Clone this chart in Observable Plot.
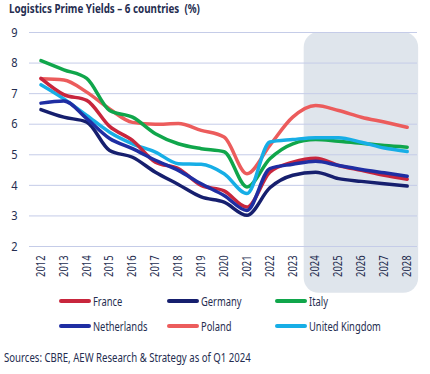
<!DOCTYPE html>
<html>
<head>
<meta charset="utf-8">
<script src="https://cdn.jsdelivr.net/npm/d3@7"></script>
<script src="https://cdn.jsdelivr.net/npm/@observablehq/plot@0.6"></script>
<style>
  html, body { margin: 0; padding: 0; background: #fff; }
  body { width: 430px; height: 374px; position: relative; overflow: hidden;
         font-family: "Noto Sans", sans-serif; color: #252d50; }
  .nar { display: inline-block; transform-origin: 0 50%; white-space: nowrap; }
  #title { position: absolute; left: 9px; top: 0px; font-size: 12.5px; font-weight: bold; }
  #title .nar { transform: scaleX(0.785); }
  #chart { position: absolute; left: 0; top: 20px; }
  #legend { position: absolute; left: 59px; top: 292px; display: grid; grid-template-columns: 108px 108px 140px; row-gap: 7px; font-size: 12px; }
  #legend .nar { transform: scaleX(0.78); }
  .item { display: flex; align-items: center; height: 18px; }
  .sw { width: 32px; height: 4px; border-radius: 2px; margin-right: 2px; flex: none; }
  #source { position: absolute; left: 4px; top: 349px; font-size: 12px; }
  #source .nar { transform: scaleX(0.80); }
</style>
</head>
<body>
<div id="title"><span class="nar">Logistics Prime Yields – 6 countries &nbsp;(%)</span></div>
<div id="chart"></div>
<div id="legend"></div>
<div id="source"><span class="nar">Sources: CBRE, AEW Research &amp; Strategy as of Q1 2024</span></div>
<script>
const years = [2012, 2013, 2014, 2015, 2016, 2017, 2018, 2019, 2020, 2021, 2022, 2023, 2024, 2025, 2026, 2027, 2028];
const countries = ["France", "Germany", "Italy", "Netherlands", "Poland", "United Kingdom"];
const colors = ["#c8263d", "#161f6e", "#10a64b", "#1f2ea3", "#ec5c5c", "#17aee6"];
const france      = [7.50, 6.97, 6.78, 5.93, 5.47, 4.76, 4.55, 4.00, 3.82, 3.29, 4.43, 4.76, 4.89, 4.65, 4.49, 4.33, 4.20];
const germany     = [6.48, 6.23, 6.07, 5.14, 4.92, 4.43, 4.03, 3.62, 3.45, 3.02, 3.92, 4.33, 4.43, 4.22, 4.13, 4.05, 3.98];
const italy       = [8.08, 7.78, 7.50, 6.45, 6.23, 5.69, 5.36, 5.20, 5.10, 3.95, 4.87, 5.36, 5.50, 5.44, 5.38, 5.30, 5.25];
const netherlands = [6.69, 6.76, 6.18, 5.53, 5.20, 4.82, 4.49, 4.05, 3.67, 3.18, 4.55, 4.69, 4.79, 4.65, 4.52, 4.41, 4.30];
const poland      = [7.49, 7.45, 7.05, 6.50, 6.06, 6.00, 6.02, 5.80, 5.58, 4.38, 5.31, 6.23, 6.61, 6.45, 6.23, 6.07, 5.90];
const uk          = [7.29, 6.83, 6.29, 5.74, 5.36, 5.09, 4.71, 4.69, 4.38, 3.73, 5.42, 5.50, 5.56, 5.56, 5.41, 5.22, 5.11];
const yTicks = [2, 3, 4, 5, 6, 7, 8, 9];
const forecastBand = [{start: 2023.5, end: 2028.5, top: 9, bottom: 0.47}];

const series = [france, germany, italy, netherlands, poland, uk];
const drawOrder = ["Poland", "Italy", "United Kingdom", "Germany", "France", "Netherlands"];
const rows = [];
drawOrder.forEach(c => {
  const vals = series[countries.indexOf(c)];
  years.forEach((y, i) => rows.push({country: c, year: y, value: vals[i]}));
});

const font = '"Noto Sans", sans-serif';
const chart = Plot.plot({
  width: 430,
  height: 276,
  marginTop: 12,
  marginBottom: 50,
  marginLeft: 29,
  marginRight: 13,
  style: {fontFamily: font, color: "#252d50", background: "transparent", overflow: "visible"},
  x: {type: "linear", domain: [2011.5, 2028.45]},
  y: {domain: [2, 9]},
  color: {domain: countries, range: colors},
  marks: [
    Plot.rect(forecastBand, {x1: "start", x2: "end", y1: "top", y2: "bottom", rx: 15, fill: "#dfe5ec"}),
    Plot.gridY(yTicks, {stroke: "#c5cce8", strokeOpacity: 1, strokeWidth: 1}),
    Plot.axisY(yTicks, {tickSize: 0, tickPadding: 12, label: null, fontSize: 13, tickFormat: d => String(d)}),
    Plot.axisX(years, {tickSize: 0, tickPadding: 9, tickRotate: -90, label: null, fontSize: 12, tickFormat: d => String(d)}),
    Plot.line(rows, {x: "year", y: "value", z: "country", stroke: "country", strokeWidth: 3.5, curve: "monotone-x"})
  ]
});
// condense tick label glyphs along their reading direction
chart.querySelectorAll('g[aria-label="x-axis tick label"] text').forEach(t => {
  t.setAttribute("transform", (t.getAttribute("transform") || "") + " scale(0.78,1)");
});
chart.querySelectorAll('g[aria-label="y-axis tick label"] text').forEach(t => {
  t.setAttribute("transform", (t.getAttribute("transform") || "") + " scale(0.85,1)");
});
document.getElementById("chart").appendChild(chart);

const legend = document.getElementById("legend");
countries.forEach((c, i) => {
  const it = document.createElement("div");
  it.className = "item";
  const sw = document.createElement("span");
  sw.className = "sw";
  sw.style.background = colors[i];
  const t = document.createElement("span");
  t.className = "nar";
  t.textContent = c;
  it.appendChild(sw);
  it.appendChild(t);
  legend.appendChild(it);
});
</script>
</body>
</html>
